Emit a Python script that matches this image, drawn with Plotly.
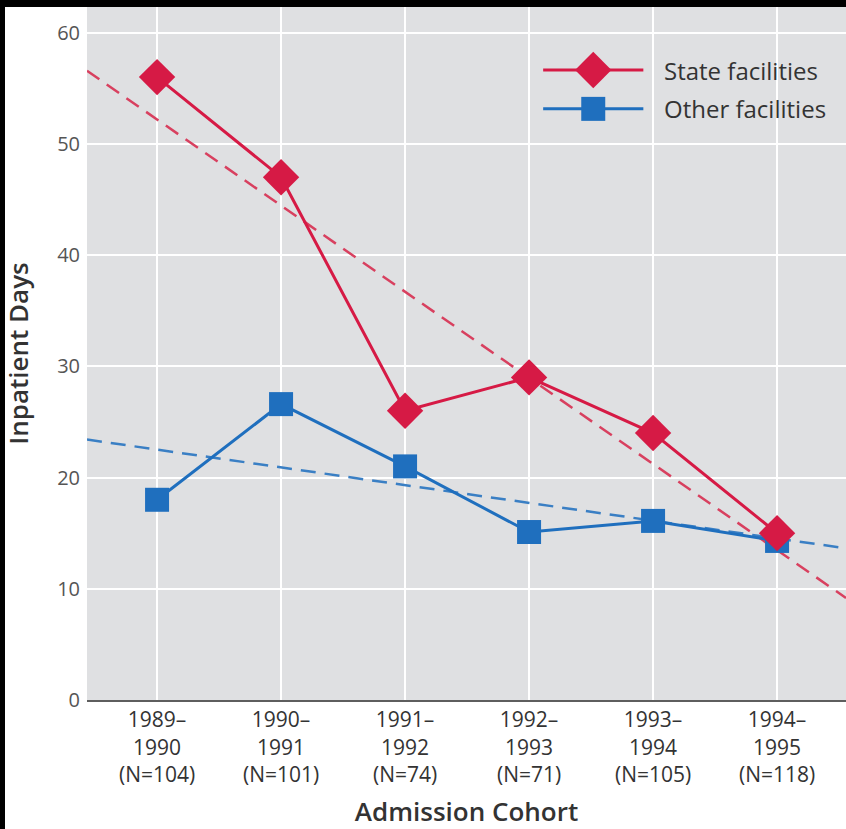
import numpy as np
import plotly.graph_objects as go

# Admission cohorts (x) with sample sizes
cohorts = ["1989–<br>1990<br>(N=104)", "1990–<br>1991<br>(N=101)", "1991–<br>1992<br>(N=74)",
           "1992–<br>1993<br>(N=71)", "1993–<br>1994<br>(N=105)", "1994–<br>1995<br>(N=118)"]
state_days = [56, 47, 26, 29, 24, 15]
other_days = [18, 26.6, 21, 15.1, 16.1, 14.3]
y_ticks = [0, 10, 20, 30, 40, 50, 60]

RED = "#d61a45"
RED_DASH = "#d8405f"
BLUE = "#1f6fbe"
BLUE_DASH = "#3a7fc4"
TXT = "#333333"
FONT = "Open Sans, sans-serif"

x_idx = np.arange(len(cohorts))
x_lo, x_hi = -0.565, 5.556
fit_x = np.array([x_lo, x_hi])

fig = go.Figure()

# Least-squares trend lines
for vals, col in [(state_days, RED_DASH), (other_days, BLUE_DASH)]:
    slope, icpt = np.polyfit(x_idx, vals, 1)
    fig.add_trace(go.Scatter(x=fit_x, y=slope * fit_x + icpt, mode="lines",
                             line=dict(color=col, width=2.5, dash="15px,9px"),
                             showlegend=False, hoverinfo="skip"))

fig.add_trace(go.Scatter(x=x_idx, y=other_days, mode="lines+markers", name="Other facilities",
                         line=dict(color=BLUE, width=3),
                         marker=dict(symbol="square", size=24, color=BLUE),
                         showlegend=False))
fig.add_trace(go.Scatter(x=x_idx, y=state_days, mode="lines+markers", name="State facilities",
                         line=dict(color=RED, width=3),
                         marker=dict(symbol="diamond", size=28, color=RED),
                         showlegend=False))

# Legend keys drawn on an overlay axis spanning the plot area
legend_rows = [("State facilities", RED, "diamond", 28, 0.909),
               ("Other facilities", BLUE, "square", 24, 0.853)]
for label, col, sym, sz, yy in legend_rows:
    fig.add_trace(go.Scatter(x=[0.601, 0.733], y=[yy, yy], mode="lines",
                             line=dict(color=col, width=3), xaxis="x2", yaxis="y2",
                             showlegend=False, hoverinfo="skip"))
    fig.add_trace(go.Scatter(x=[0.667], y=[yy], mode="markers",
                             marker=dict(symbol=sym, size=sz, color=col), xaxis="x2", yaxis="y2",
                             showlegend=False, hoverinfo="skip"))
    fig.add_annotation(x=0.7576, y=yy, xref="x2", yref="y2", text=label, showarrow=False,
                       xanchor="left", yanchor="middle",
                       font=dict(family=FONT, size=24, color=TXT))

# Dark frame strips along the top and left edges
W_PLOT, H_PLOT = 759, 693
fig.add_shape(type="rect", xref="paper", yref="paper", x0=-87 / W_PLOT, x1=1.01,
              y0=1, y1=1 + 8 / H_PLOT, fillcolor="black", line_width=0, layer="above")
fig.add_shape(type="rect", xref="paper", yref="paper", x0=-87 / W_PLOT, x1=-82 / W_PLOT,
              y0=-129 / H_PLOT, y1=1 + 8 / H_PLOT, fillcolor="black", line_width=0, layer="above")

fig.update_layout(
    width=846, height=829,
    margin=dict(l=87, r=0, t=7, b=129),
    paper_bgcolor="white",
    plot_bgcolor="#dfe0e2",
    showlegend=False,
    font=dict(family=FONT, color=TXT, size=20),
    xaxis=dict(range=[x_lo, x_hi], tickmode="array", tickvals=list(x_idx), ticktext=cohorts,
               showgrid=True, gridcolor="white", gridwidth=2, zeroline=False,
               showline=True, linecolor="#5e5e5e", linewidth=2, ticks="",
               ticklabelstandoff=0,
               tickfont=dict(family=FONT, size=21, color=TXT),
               title=dict(text="Admission Cohort", standoff=18,
                          font=dict(family=FONT, size=26, color=TXT, weight=600))),
    yaxis=dict(range=[0, 62.3], tickmode="array", tickvals=y_ticks,
               showgrid=True, gridcolor="white", gridwidth=2, zeroline=False,
               ticks="", ticklabelstandoff=6,
               tickfont=dict(family=FONT, size=20, color="#555555"),
               title=dict(text="Inpatient Days", standoff=23,
                          font=dict(family=FONT, size=26, color=TXT, weight=600))),
    xaxis2=dict(overlaying="x", range=[0, 1], visible=False, fixedrange=True),
    yaxis2=dict(overlaying="y", range=[0, 1], visible=False, fixedrange=True),
)

fig.write_html("out.html")
